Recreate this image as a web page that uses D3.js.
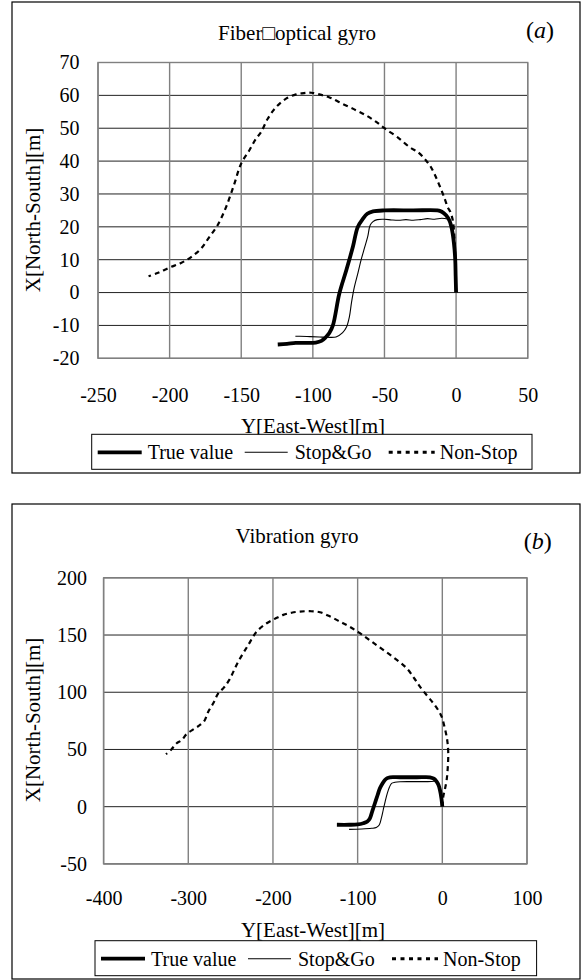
<!DOCTYPE html>
<html>
<head>
<meta charset="utf-8">
<script src="https://cdn.jsdelivr.net/npm/d3@7"></script>
<style>
  body { margin: 0; background: #fff; }
  text { font-family: "Liberation Serif", "Times New Roman", "DejaVu Serif", serif; fill: #000; }
</style>
</head>
<body>
<div id="chart"></div>
<script>
// trajectories, points are [Y east-west, X north-south] in m

// (a) fiber-optical gyro
const fogTrue = [[0,0],[-0.3,5],[-0.6,10],[-1.5,15],[-2.8,19],[-4.5,21.8],[-7,23.5],[-10,24.6],[-13,25],
  [-30,25],[-50,25],[-58,24.7],[-62,24],[-65,22.5],[-68.7,19.9],[-72,14],[-76.5,7],[-81.5,-0.3],
  [-86,-10],[-88.5,-12.3],[-91,-13.6],[-94,-14.7],[-98,-15.2],[-105,-15.3],[-112,-15.3],[-118,-15.6],[-124.5,-15.8]];
const fogStop = [[-5,22.3],[-10,22.6],[-15,22.3],[-20,22.5],[-25,22.2],[-30,22.0],[-35,22.2],[-40,22.0],
  [-45,22.1],[-50,22.3],[-55,22.2],[-58,21.6],[-60,20.5],[-61.7,17],[-64,13.5],[-66.4,9.8],[-68.5,6],
  [-71,1.7],[-73,-3],[-74.5,-7.4],[-76.5,-10.5],[-79.2,-12.2],[-83.8,-13.5],[-90,-13.6],[-95.5,-13.5],
  [-102,-13.4],[-109,-13.3],[-112.2,-13.3]];
const fogNonStop = [[0,0],[-0.5,10],[-1.2,17],[-2.3,22],[-4,24.5],[-5.9,26],[-7.5,28],[-9.3,30.1],[-12,33],
  [-15.2,36.2],[-18,38.5],[-21,40.2],[-26,42.5],[-32.6,44.3],[-41,47.3],[-50,50],[-56,52],[-62.8,53.9],
  [-70,55.5],[-79.2,57.4],[-88,59.3],[-95.5,60.3],[-101,60.8],[-104.5,60.8],[-108,60.6],[-111.7,60.3],
  [-118.7,59],[-125.7,56.4],[-131.5,52.9],[-136.2,48.8],[-139.7,46.8],[-144.3,43.3],[-150.1,39.2],
  [-154.8,33.1],[-160.6,26],[-166.5,20.5],[-172.3,16.9],[-178,13.4],[-185,10.8],[-192,9],[-200.2,7.6],
  [-208,6],[-214.7,4.95]];

// (b) vibration gyro
const vibTrue = [[0,0],[-1,7],[-2.8,14.6],[-4.5,19],[-6.7,21.9],[-10,24.5],[-14.6,25.7],[-30,25.7],
  [-50,25.7],[-61.9,25.7],[-65,25],[-67.8,23.3],[-70.5,20.5],[-73.7,16],[-76.5,10],[-79.6,3],
  [-82.5,-3.5],[-85.5,-10.2],[-88.5,-13],[-93.4,-14.5],[-100,-15.5],[-110,-15.8],[-124.5,-15.8]];
const vibStop = [[-6.7,23],[-10,22.2],[-20,21.9],[-35,21.9],[-50,21.8],[-56,21.3],[-59.9,20.4],[-62.5,17],
  [-65,11.7],[-67.5,4.5],[-69.8,-2.9],[-72,-10],[-74.5,-16],[-78,-18.2],[-83.5,-18.9],[-95,-19.5],[-110.1,-19.8]];
const vibNonStop = [[0,0],[1.1,8.7],[3,15],[5.1,23.3],[6.5,35],[7,46.7],[6.3,55],[5.1,61.2],[2.5,70],
  [-0.8,78.7],[-5,84.5],[-10.7,90.4],[-18,97],[-26.4,104.9],[-33,112],[-42.1,121],[-55,129],[-69.8,137],
  [-84,144.5],[-97.3,151.6],[-110,157.5],[-120.9,161.7],[-132,166],[-144.5,169.9],[-156,170.8],
  [-168.1,170.5],[-178,169.5],[-187.8,167.6],[-197,164.5],[-207.4,160.3],[-219.2,153],[-229.2,141.3],
  [-241,126.7],[-251.6,110.8],[-258,104],[-264.6,99.1],[-270,91],[-276.4,83],[-281,75],[-286.2,71.4],
  [-293,68],[-301.9,63.5],[-308,58],[-313.7,55.4],[-320,50],[-326.3,45.8]];

const seriesNames = ["True value", "Stop&Go", "Non-Stop"];
const fogXTicks = [-250, -200, -150, -100, -50, 0, 50];
const fogYTicks = [-20, -10, 0, 10, 20, 30, 40, 50, 60, 70];
const vibXTicks = [-400, -300, -200, -100, 0, 100];
const vibYTicks = [-50, 0, 50, 100, 150, 200];

const SERIF = "'Liberation Serif','Times New Roman',serif";

// line styles for the three series
const styles = [
  { w: 3.8, dash: null },
  { w: 1.1, dash: null },
  { w: 2.2, dash: "5,4" }
];

const svg = d3.select("#chart").append("svg")
  .attr("width", 585).attr("height", 980);

function drawPanel(p) {
  const g = svg.append("g");

  // outer frame
  g.append("rect")
    .attr("x", p.frame[0]).attr("y", p.frame[1])
    .attr("width", p.frame[2]).attr("height", p.frame[3])
    .attr("fill", "none").attr("stroke", "#000").attr("stroke-width", 1.2);

  const x = d3.scaleLinear().domain(d3.extent(p.xTicks)).range([p.left, p.right]);
  const y = d3.scaleLinear().domain(d3.extent(p.yTicks)).range([p.bottom, p.top]);

  // gridlines
  g.append("g").selectAll("line").data(p.yTicks).enter().append("line")
    .attr("x1", p.left).attr("x2", p.right)
    .attr("y1", d => y(d)).attr("y2", d => y(d))
    .attr("stroke", "#222").attr("stroke-width", 1);
  g.append("g").selectAll("line").data(p.xTicks).enter().append("line")
    .attr("x1", d => x(d)).attr("x2", d => x(d))
    .attr("y1", p.top).attr("y2", p.bottom)
    .attr("stroke", "#808080").attr("stroke-width", 1.4);

  // plot border
  g.append("rect")
    .attr("x", p.left).attr("y", p.top)
    .attr("width", p.right - p.left).attr("height", p.bottom - p.top)
    .attr("fill", "none").attr("stroke", "#808080").attr("stroke-width", 1.4);

  // axes (labels only), plain hyphen for negatives like the original
  const fmt = d => String(d);
  const xAxis = g.append("g")
    .attr("transform", "translate(0," + p.bottom + ")")
    .call(d3.axisBottom(x).tickValues(p.xTicks).tickFormat(fmt).tickSize(0).tickPadding(p.padX));
  const yAxis = g.append("g")
    .attr("transform", "translate(" + p.left + ",0)")
    .call(d3.axisLeft(y).tickValues(p.yTicks).tickFormat(fmt).tickSize(0).tickPadding(p.padY));
  [xAxis, yAxis].forEach(a => {
    a.attr("font-family", SERIF).attr("font-size", 20);
    a.select(".domain").remove();
    a.selectAll("text")
      .style("font-family", SERIF)
      .style("font-size", "20px").attr("fill", "#000");
  });

  // data lines
  const line = d3.line()
    .x(d => x(d[0])).y(d => y(d[1]))
    .curve(d3.curveCatmullRom.alpha(0.5));
  p.data.forEach((s, i) => {
    g.append("path")
      .datum(s)
      .attr("d", line)
      .attr("fill", "none")
      .attr("stroke", "#000")
      .attr("stroke-width", styles[i].w)
      .attr("stroke-dasharray", styles[i].dash)
      .attr("stroke-linejoin", "round");
  });

  // titles
  g.append("text")
    .attr("x", 297).attr("y", p.titleY)
    .attr("text-anchor", "middle")
    .style("font-size", "21px")
    .text(p.title);
  const tag = g.append("text")
    .attr("x", p.tagX).attr("y", p.tagY)
    .attr("text-anchor", "middle")
    .style("font-size", "24px");
  tag.append("tspan").text("(");
  tag.append("tspan").style("font-style", "italic").text(p.tag);
  tag.append("tspan").text(")");

  g.append("text")
    .attr("x", 313).attr("y", p.xTitleY)
    .attr("text-anchor", "middle")
    .style("font-size", "21px")
    .text("Y[East-West][m]");
  g.append("text")
    .attr("transform", "translate(40," + p.yTitleY + ") rotate(-90)")
    .attr("text-anchor", "middle")
    .style("font-size", "21px")
    .text("X[North-South][m]");

  // legend
  const lg = g.append("g").attr("transform", "translate(" + p.legX + "," + p.legY + ")");
  lg.append("rect")
    .attr("width", p.legW).attr("height", 35)
    .attr("fill", "#fff").attr("stroke", "#000").attr("stroke-width", 1);
  const itemX = [[6, 50, 56], [153, 196, 203], [297, 343, 348]];
  seriesNames.forEach((name, i) => {
    lg.append("line")
      .attr("x1", itemX[i][0]).attr("x2", itemX[i][1])
      .attr("y1", 18).attr("y2", 18)
      .attr("stroke", "#000")
      .attr("stroke-width", i === 2 ? 3 : styles[i].w)
      .attr("stroke-dasharray", i === 2 ? "4,4.5" : null);
    lg.append("text")
      .attr("x", itemX[i][2]).attr("y", 25)
      .style("font-size", "20px")
      .text(name);
  });
}

drawPanel({
  frame: [12, 2, 568, 471],
  left: 98, right: 527.7, top: 62.5, bottom: 358.3,
  xTicks: fogXTicks, yTicks: fogYTicks,
  padX: 30, padY: 18.5,
  title: "Fiber\u25A1optical gyro", titleY: 39.5,
  tag: "a", tagX: 540, tagY: 38,
  xTitleY: 433, yTitleY: 210,
  legX: 91.7, legY: 434.3, legW: 440.3,
  data: [fogTrue, fogStop, fogNonStop]
});

drawPanel({
  frame: [12, 504, 568, 475],
  left: 103.6, right: 527, top: 577.8, bottom: 863.9,
  xTicks: vibXTicks, yTicks: vibYTicks,
  padX: 27.4, padY: 16.6,
  title: "Vibration gyro", titleY: 543.3,
  tag: "b", tagX: 537.7, tagY: 549,
  xTitleY: 937, yTitleY: 720,
  legX: 95, legY: 940.7, legW: 441.6,
  data: [vibTrue, vibStop, vibNonStop]
});
</script>
</body>
</html>
